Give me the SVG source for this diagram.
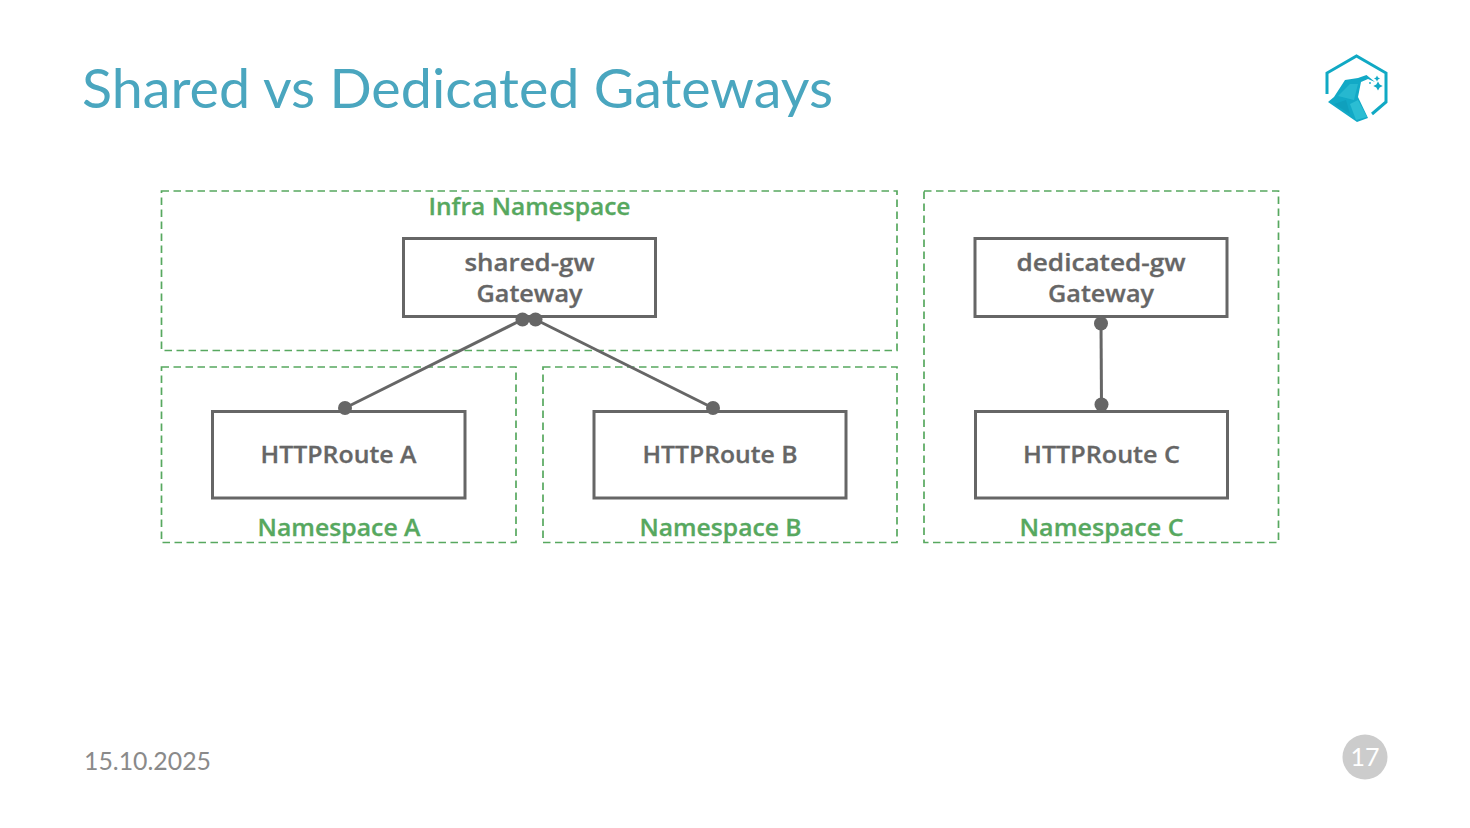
<svg xmlns="http://www.w3.org/2000/svg" width="1470" height="828" viewBox="0 0 1470 828">
<style>
.ns{fill:none;stroke:#57a85f;stroke-width:1.700;stroke-dasharray:7.500 4.500}
.box{fill:#fff;stroke:#666;stroke-width:3}
.edge{stroke:#666;stroke-width:3;fill:none}
.dot{fill:#666}
.lbl{font-family:"Open Sans","Liberation Sans",sans-serif;font-weight:600;font-size:24px;fill:#666;text-anchor:middle;stroke:#666;stroke-width:.3}
.nsl{font-family:"Open Sans","Liberation Sans",sans-serif;font-weight:600;font-size:24px;fill:#57a85f;text-anchor:middle;stroke:#57a85f;stroke-width:.3}
</style>
<rect width="1470" height="828" fill="#fff"/>
<text x="82" y="108" font-family="Lato,'Open Sans',sans-serif" font-size="54" fill="#4aa6bf" textLength="751" lengthAdjust="spacingAndGlyphs">Shared vs Dedicated Gateways</text>
<g id="logo">
<path d="M1327 94V73L1356.500 56L1386 73V102L1372 114" fill="none" stroke="#10a9c4" stroke-width="3"/>
<path d="M1328 102L1334 97L1345 80L1358 78L1366.500 75L1375 82L1368 79L1361 82L1358 97L1368 118L1357 122Z" fill="#12a9c6"/>
<path d="M1338 96L1350 84L1358 84L1354 100Z" fill="#26b8d0"/>
<path d="M1350 104L1358 100L1367 117L1356 120Z" fill="#2bbdd3"/>
<path d="M1334 104L1346 100L1350 114Z" fill="#0fa0bd"/>
<path d="M1378 81.500l1.700 3 3 1.500-3 1.500-1.700 3-1.700-3-3-1.500 3-1.500zM1377 75.500l1 2 2 1-2 1-1 2-1-2-2-1 2-1z" fill="#12a9c6"/>
<circle cx="1370" cy="83" r="0.900" fill="#12a9c6"/>
</g>
<g id="infra-namespace"><rect class="ns" x="161.500" y="191" width="735.500" height="159.500"/><text class="nsl" x="529.500" y="215" textLength="202" lengthAdjust="spacingAndGlyphs">Infra Namespace</text></g>
<g id="namespace-a"><rect class="ns" x="161.500" y="367" width="354.500" height="175.500"/><text class="nsl" x="339" y="536" textLength="163" lengthAdjust="spacingAndGlyphs">Namespace A</text></g>
<g id="namespace-b"><rect class="ns" x="543" y="367" width="354" height="175.500"/><text class="nsl" x="720.500" y="536" textLength="162" lengthAdjust="spacingAndGlyphs">Namespace B</text></g>
<g id="namespace-c"><rect class="ns" x="924" y="191" width="354.500" height="351.500"/><text class="nsl" x="1101.500" y="536" textLength="164" lengthAdjust="spacingAndGlyphs">Namespace C</text></g>
<g id="shared-gw"><rect class="box" x="403.500" y="238.500" width="252" height="78"/><text class="lbl" x="529.500" y="271" textLength="130" lengthAdjust="spacingAndGlyphs">shared-gw</text><text class="lbl" x="529.500" y="302" textLength="106" lengthAdjust="spacingAndGlyphs">Gateway</text></g>
<g id="dedicated-gw"><rect class="box" x="975" y="238.500" width="252" height="78"/><text class="lbl" x="1101" y="271" textLength="169" lengthAdjust="spacingAndGlyphs">dedicated-gw</text><text class="lbl" x="1101" y="302" textLength="106" lengthAdjust="spacingAndGlyphs">Gateway</text></g>
<g id="httproute-a"><rect class="box" x="212.500" y="411.500" width="252.500" height="86.500"/><text class="lbl" x="338.500" y="463" textLength="156" lengthAdjust="spacingAndGlyphs">HTTPRoute A</text></g>
<g id="httproute-b"><rect class="box" x="594" y="411.500" width="252" height="86.500"/><text class="lbl" x="720" y="463" textLength="155" lengthAdjust="spacingAndGlyphs">HTTPRoute B</text></g>
<g id="httproute-c"><rect class="box" x="975.500" y="411.500" width="252" height="86.500"/><text class="lbl" x="1101.500" y="463" textLength="157" lengthAdjust="spacingAndGlyphs">HTTPRoute C</text></g>
<g id="connectors">
<path class="edge" d="M522.500 319.500L345 408"/><circle class="dot" cx="522.500" cy="319.500" r="7"/><circle class="dot" cx="345" cy="408" r="7"/>
<path class="edge" d="M535.500 319.500L713 408"/><circle class="dot" cx="535.500" cy="319.500" r="7"/><circle class="dot" cx="713" cy="408" r="7"/>
<path class="edge" d="M1101 323.500L1101.500 404.500"/><circle class="dot" cx="1101" cy="323.500" r="7"/><circle class="dot" cx="1101.500" cy="404.500" r="7"/>
</g>
<text x="84" y="770" font-family="Lato,'Open Sans',sans-serif" font-size="25" fill="#8a8a8a" textLength="127" lengthAdjust="spacingAndGlyphs">15.10.2025</text>
<g id="page"><circle cx="1365" cy="757" r="22.500" fill="#cccccc"/><text x="1365" y="766" font-family="Lato,'Open Sans',sans-serif" font-size="25" fill="#fff" text-anchor="middle">17</text></g>
</svg>
